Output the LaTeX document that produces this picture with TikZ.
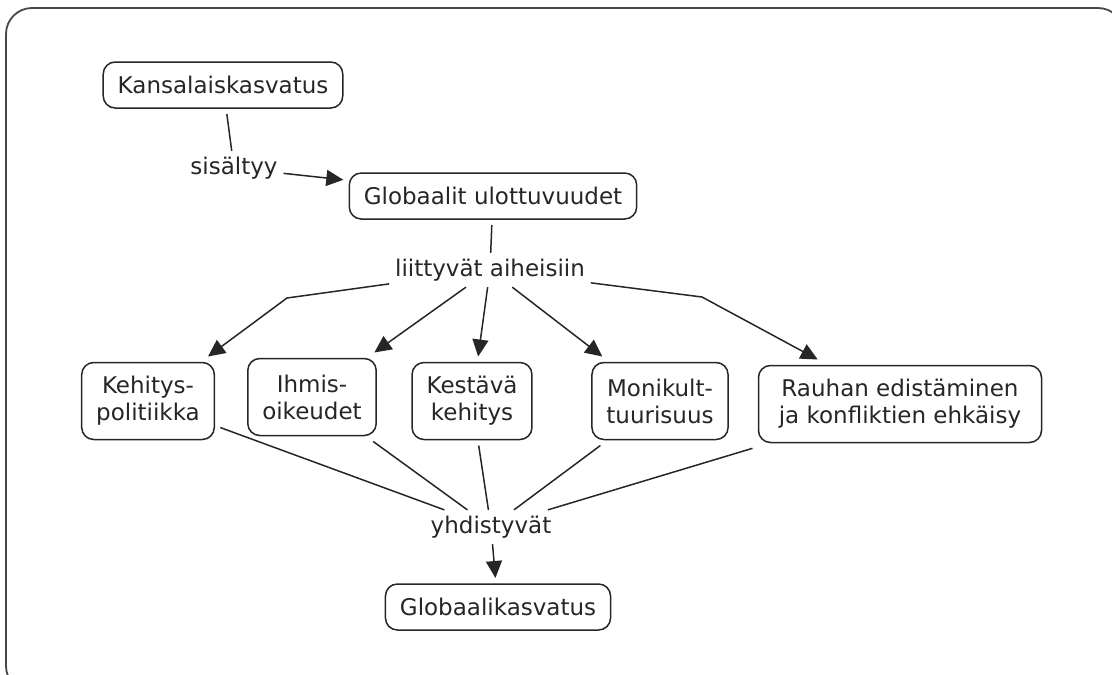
\documentclass[tikz,border=0pt]{standalone}
\usepackage{fontspec}
\setmainfont{DejaVu Sans}
\usetikzlibrary{arrows.meta, positioning}
\definecolor{ink}{HTML}{262626}
\tikzstyle{box} = [rectangle, rounded corners=12pt, draw=ink, line width=1.5pt, text=ink, inner xsep=14.5pt, inner ysep=4pt, minimum height=46pt, outer sep=6pt, align=center, fill=white]
\tikzstyle{twobox} = [box, minimum height=77pt]
\tikzstyle{phrase} = [text=ink, inner sep=2pt, outer sep=4pt]
\tikzstyle{link} = [line width=1.5pt, draw=ink]
\tikzstyle{arrow} = [link, -{Triangle[length=17pt,width=16pt]}]

\begin{document}
\begin{tikzpicture}[x=1pt, y=-1pt, on grid, font=\fontsize{23}{27}\selectfont]

	\useasboundingbox (0,0) rectangle (1112,675);
	\draw[line width=1.8pt, draw=ink!85, rounded corners=26pt] (6,8) rectangle (1124,692);

	% Top
	\node (kansalais) [box] at (223,85) {Kansalaiskasvatus};
	\node (sisaltyy) [phrase, below right=83pt and 11pt of kansalais] {sisältyy};
	\node (globaalit) [box, below right=111pt and 270pt of kansalais] {Globaalit ulottuvuudet};
	\node (liittyvat) [phrase, below left=74pt and 3pt of globaalit] {liittyvät aiheisiin};

	% Topics
	\node (kestava) [twobox, below left=131pt and 18pt of liittyvat] {Kestävä\\kehitys};
	\node (ihmis) [twobox, above left=4pt and 160pt of kestava] {Ihmis-\\oikeudet};
	\node (kehitys) [twobox, left=324pt of kestava] {Kehitys-\\politiikka};
	\node (moni) [twobox, right=188pt of kestava] {Monikult-\\tuurisuus};
	\node (rauhan) [twobox, minimum width=283pt, below right=3pt and 428pt of kestava] {Rauhan edistäminen\\ja konfliktien ehkäisy};

	% Bottom
	\node (yhdistyvat) [phrase, below right=126pt and 19pt of kestava] {yhdistyvät};
	\node (globaalikasvatus) [box, below right=80pt and 7pt of yhdistyvat] {Globaalikasvatus};

	\coordinate (bendl) at (287,298);
	\coordinate (bendr) at (702,297);

	% Arrows
	\draw[link] (kansalais) -- (sisaltyy);
	\draw[arrow] (sisaltyy) -- (globaalit);
	\draw[link] (globaalit) -- (liittyvat);

	\draw[arrow] (liittyvat) -- (bendl) -- (kehitys);
	\draw[arrow] (liittyvat) -- (ihmis);
	\draw[arrow] (liittyvat) -- (kestava);
	\draw[arrow] (liittyvat) -- (moni);
	\draw[arrow] (liittyvat) -- (bendr) -- (rauhan);

	\draw[link] (kehitys) -- (yhdistyvat);
	\draw[link] (ihmis) -- (yhdistyvat);
	\draw[link] (kestava) -- (yhdistyvat);
	\draw[link] (moni) -- (yhdistyvat);
	\draw[link] (rauhan) -- (yhdistyvat);
	\draw[arrow] (yhdistyvat) -- (globaalikasvatus);

\end{tikzpicture}
\end{document}
